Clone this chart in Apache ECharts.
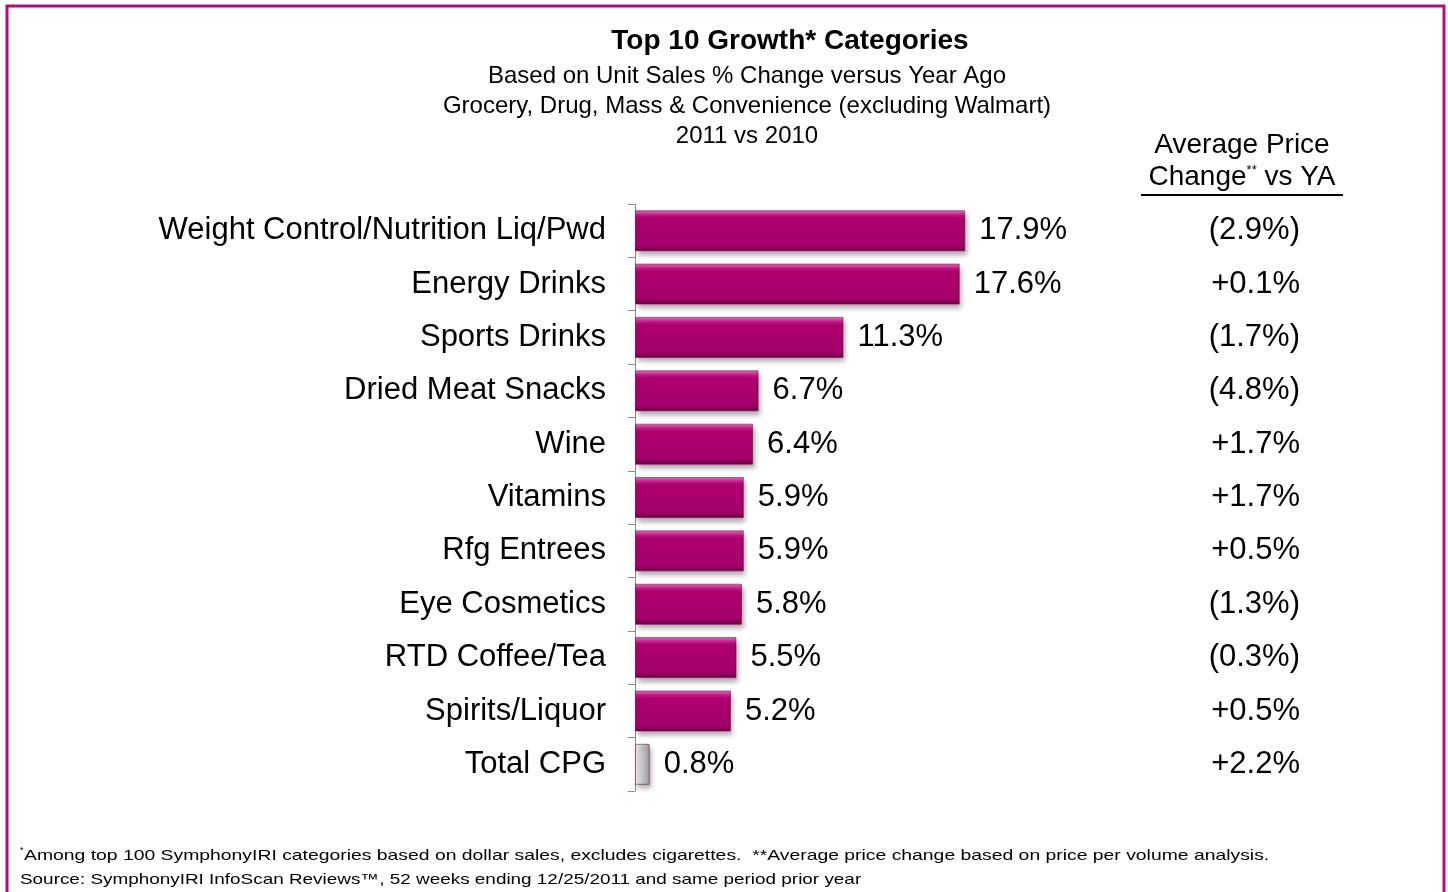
<!DOCTYPE html>
<html>
<head>
<meta charset="utf-8">
<script src="https://cdn.jsdelivr.net/npm/echarts@6/dist/echarts.min.js"></script>
<style>
  html, body { margin: 0; padding: 0; background: #fff; }
  #chart { width: 1448px; height: 892px; }
</style>
</head>
<body>
<div id="chart"></div>
<script>
// Top growth categories, unit sales % change 2011 vs 2010
const categories = [
  'Weight Control/Nutrition Liq/Pwd', 'Energy Drinks', 'Sports Drinks',
  'Dried Meat Snacks', 'Wine', 'Vitamins', 'Rfg Entrees', 'Eye Cosmetics',
  'RTD Coffee/Tea', 'Spirits/Liquor', 'Total CPG'
];
const unitSalesChange = [17.9, 17.6, 11.3, 6.7, 6.4, 5.9, 5.9, 5.8, 5.5, 5.2, 0.8];
const avgPriceChange = ['(2.9%)', '+0.1%', '(1.7%)', '(4.8%)', '+1.7%', '+1.7%',
  '+0.5%', '(1.3%)', '(0.3%)', '+0.5%', '+2.2%'];
const titleLines = [
  'Based on Unit Sales % Change versus Year Ago',
  'Grocery, Drug, Mass & Convenience (excluding Walmart)',
  '2011 vs 2010'
];
const footnotes = [
  'Among top 100 SymphonyIRI categories based on dollar sales, excludes cigarettes.  **Average price change based on price per volume analysis.',
  'Source: SymphonyIRI InfoScan Reviews\u2122, 52 weeks ending 12/25/2011 and same period prior year'
];

const FONT = 'Liberation Sans, Arial, sans-serif';

// bevelled magenta bars, grey bar for the total
const magenta = {
  type: 'linear', x: 0, y: 0, x2: 0, y2: 1,
  colorStops: [
    { offset: 0, color: '#F070C0' },
    { offset: 0.12, color: '#C81688' },
    { offset: 0.2, color: '#AE006E' },
    { offset: 0.85, color: '#A4006A' },
    { offset: 1, color: '#6A0044' }
  ]
};
const grey = {
  type: 'linear', x: 0, y: 0, x2: 1, y2: 0,
  colorStops: [
    { offset: 0, color: '#F2F2F2' },
    { offset: 0.3, color: '#D4D4D4' },
    { offset: 1, color: '#9C9C9C' }
  ]
};

const chart = echarts.init(document.getElementById('chart'), null, { renderer: 'canvas' });

const titles = [{
  text: 'Top 10 Growth* Categories',
  left: 785, top: 22, textAlign: 'center',
  textStyle: { fontFamily: FONT, fontWeight: 'bold', fontSize: 28, color: '#000' }
}];
titleLines.forEach((t, i) => titles.push({
  text: t, left: 742, top: 59 + i * 30, textAlign: 'center',
  textStyle: { fontFamily: FONT, fontWeight: 'normal', fontSize: 24, color: '#000' }
}));

chart.setOption({
  animation: false,
  backgroundColor: '#fff',
  title: titles,
  grid: { left: 635, right: 444, top: 204, bottom: 101 },
  xAxis: { type: 'value', min: 0, max: 20, show: false },
  yAxis: [{
    type: 'category', data: categories, inverse: true,
    axisLine: { lineStyle: { color: '#8C8C8C', width: 1 } },
    axisTick: { show: true, length: 7, lineStyle: { color: '#8C8C8C' } },
    axisLabel: { fontFamily: FONT, fontSize: 31, color: '#000', margin: 29 }
  }, {
    type: 'category', data: avgPriceChange, inverse: true, position: 'right',
    offset: 296,
    axisLine: { show: false }, axisTick: { show: false },
    axisLabel: { fontFamily: FONT, fontSize: 31, color: '#000', margin: 0, align: 'right' }
  }],
  series: [{
    type: 'bar', yAxisIndex: 0, barWidth: 41,
    data: unitSalesChange.map((v, i) => ({
      value: v,
      itemStyle: { color: i === unitSalesChange.length - 1 ? grey : magenta }
    })),
    itemStyle: {
      borderColor: 'rgba(90,0,55,0.5)', borderWidth: 1,
      shadowColor: 'rgba(0,0,0,0.35)', shadowBlur: 5, shadowOffsetX: 2, shadowOffsetY: 4
    },
    label: {
      show: true, position: 'right', distance: 14,
      fontFamily: FONT, fontSize: 31, color: '#000',
      formatter: p => p.value.toFixed(1) + '%'
    }
  }],
  graphic: [
    // page frame
    { type: 'polyline', shape: { points: [[7, 900], [7, 6], [1444, 6], [1444, 900]] },
      style: { stroke: '#B0107E', lineWidth: 3, fill: null } },
    // price column header
    { type: 'text', x: 1242, y: 159, style: {
        text: 'Average Price', font: '28px ' + FONT, fill: '#000',
        textAlign: 'center', textVerticalAlign: 'bottom' } },
    { type: 'text', x: 1242, y: 162, style: {
        text: '{a|Change}{s|**}{a| vs YA}', fill: '#000', textAlign: 'center',
        rich: {
          a: { fontFamily: FONT, fontSize: 28, lineHeight: 30 },
          s: { fontFamily: FONT, fontSize: 13, lineHeight: 30, verticalAlign: 'top', padding: [2, 0, 0, 0] }
        } } },
    { type: 'line', shape: { x1: 1141, y1: 195, x2: 1343, y2: 195 },
      style: { stroke: '#000', lineWidth: 2 } },
    // footnotes
    { type: 'text', x: 20, y: 846, style: { text: '*', font: '9px ' + FONT, fill: '#000' } },
    { type: 'text', x: 24, y: 848, scaleX: 1.29, style: { text: footnotes[0], font: '15px ' + FONT, fill: '#000' } },
    { type: 'text', x: 20, y: 872, scaleX: 1.26, style: { text: footnotes[1], font: '15px ' + FONT, fill: '#000' } }
  ]
});
</script>
</body>
</html>
